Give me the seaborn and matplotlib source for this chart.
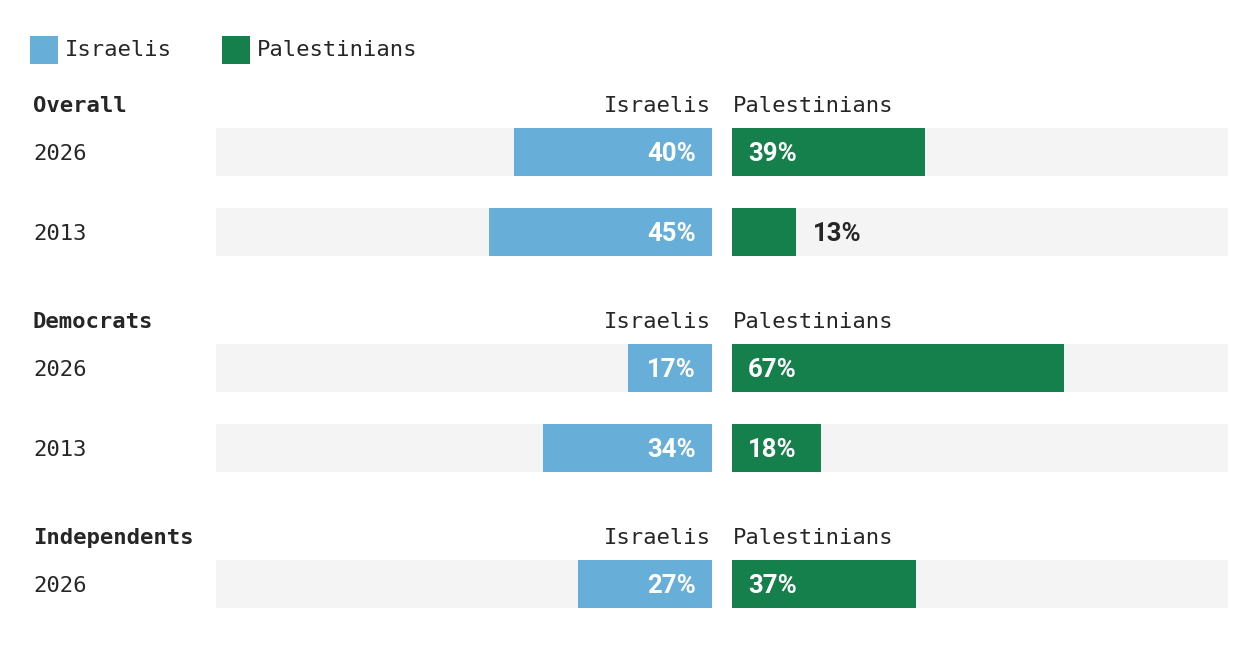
import numpy as np
import pandas as pd
import matplotlib
matplotlib.use("Agg")
import matplotlib.pyplot as plt
from matplotlib.patches import Rectangle
import seaborn as sns

# ---------- DATA ----------
groups = ["Overall", "Overall", "Democrats", "Democrats", "Independents"]
years = ["2026", "2013", "2026", "2013", "2026"]
israelis = [40, 45, 17, 34, 27]
palestinians = [39, 13, 67, 18, 37]
series = ["Israelis", "Palestinians"]

# ---------- STYLE / LAYOUT ----------
BLUE, GREEN, BG, INK = "#67aed9", "#16804c", "#f4f4f4", "#262626"
W, H = 1260, 660
row_y = [152, 232, 368, 448, 584]       # bar centres (px from top)
head_y = [104, 320, 536]                 # group header rows
MONO = "DejaVu Sans Mono"

sns.set_theme(style="white")
plt.rcParams["font.family"] = [MONO, "DejaVu Sans"]

df = pd.DataFrame({"group": groups, "year": years,
                   "Israelis": israelis, "Palestinians": palestinians,
                   "y": row_y})
df["full"] = 100

fig = plt.figure(figsize=(W / 100, H / 100), dpi=100)
canvas = fig.add_axes([0, 0, 1, 1])
canvas.set_xlim(0, W); canvas.set_ylim(H, 0); canvas.axis("off")

ax_l = fig.add_axes([216 / W, 0, 496 / W, 1])
ax_r = fig.add_axes([732 / W, 0, 496 / W, 1])

for ax, col, color in [(ax_l, "Israelis", BLUE), (ax_r, "Palestinians", GREEN)]:
    sns.barplot(data=df, x="full", y="y", orient="h", native_scale=True, width=0.6,
                color=BG, saturation=1, errorbar=None, linewidth=0, ax=ax)
    sns.barplot(data=df, x=col, y="y", orient="h", native_scale=True, width=0.6,
                color=color, saturation=1, errorbar=None, linewidth=0, ax=ax)
    ax.set_ylim(H, 0)
    ax.axis("off")
ax_l.set_xlim(100, 0)
ax_r.set_xlim(0, 100)

# ---------- VALUE LABELS ----------
val_kw = dict(family="Roboto", weight="bold", fontsize=18.5, va="center",
              textcoords="offset pixels")
for v, y in zip(israelis, row_y):
    inside = v >= 15
    ax_l.annotate(f"{v}%", (0 if inside else v, y), xytext=(-16, -2), ha="right",
                  color="white" if inside else INK, **val_kw)
for v, y in zip(palestinians, row_y):
    inside = v >= 15
    ax_r.annotate(f"{v}%", (0 if inside else v, y), xytext=(16, -2), ha="left",
                  color="white" if inside else INK, **val_kw)

# ---------- ROW / GROUP LABELS ----------
for g, hy in zip(["Overall", "Democrats", "Independents"], head_y):
    canvas.text(33, hy + 1.5, g, fontsize=16, weight="bold", color=INK, va="center")
    canvas.text(711, hy + 1.5, series[0], fontsize=16, color=INK, va="center", ha="right")
    canvas.text(733, hy + 1.5, series[1], fontsize=16, color=INK, va="center", ha="left")
for yr, y in zip(years, row_y):
    canvas.text(33, y + 1.5, yr, fontsize=16, color=INK, va="center")

# ---------- LEGEND ----------
for x0, name, color in [(30, series[0], BLUE), (222, series[1], GREEN)]:
    canvas.add_patch(Rectangle((x0, 36), 28, 28, color=color, lw=0))
    canvas.text(x0 + 35, 50, name, fontsize=16, color=INK, va="center")

fig.savefig("out.png", dpi=100, facecolor="white")
